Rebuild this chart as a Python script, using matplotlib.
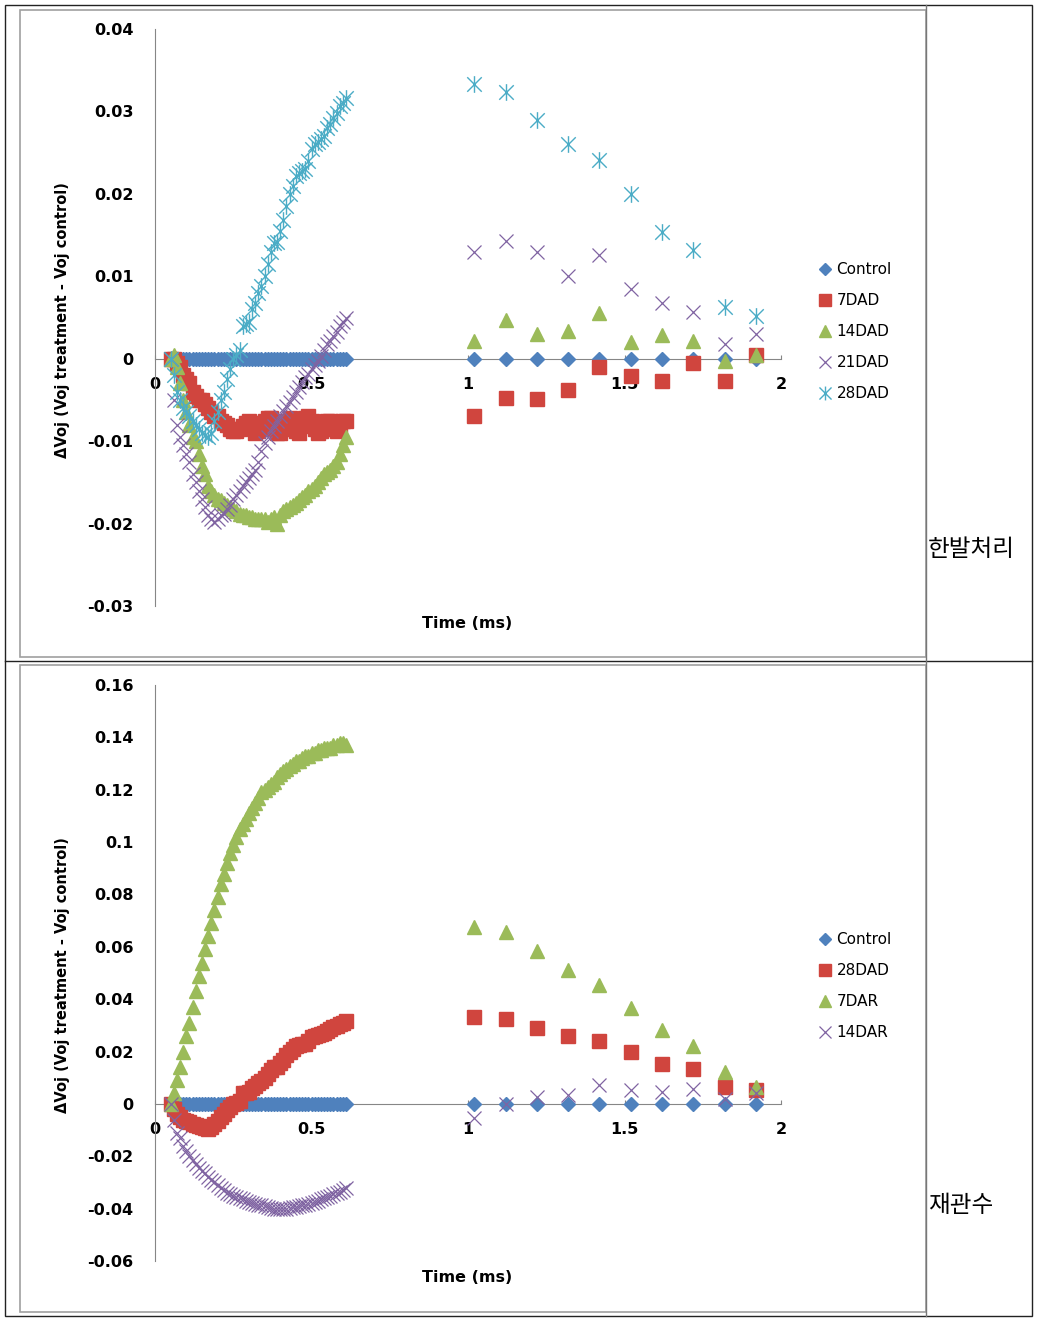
import matplotlib
matplotlib.use("Agg")
import matplotlib.pyplot as plt
from matplotlib.path import Path
from matplotlib.lines import Line2D
from matplotlib.patches import Rectangle

# ---------------- data ----------------
t_dense = [0.05, 0.06, 0.07, 0.08, 0.09, 0.10, 0.11, 0.12, 0.13, 0.14,
           0.15, 0.16, 0.17, 0.18, 0.19, 0.20, 0.21, 0.22, 0.23, 0.24,
           0.25, 0.26, 0.27, 0.28, 0.29, 0.30, 0.31, 0.32, 0.33, 0.34,
           0.35, 0.36, 0.37, 0.38, 0.39, 0.40, 0.41, 0.42, 0.43, 0.44,
           0.45, 0.46, 0.47, 0.48, 0.49, 0.50, 0.51, 0.52, 0.53, 0.54,
           0.55, 0.56, 0.57, 0.58, 0.59, 0.60, 0.61]
t_sparse = [1.02, 1.12, 1.22, 1.32, 1.42, 1.52, 1.62, 1.72, 1.82, 1.92]

control_dense = [0.0, 0.0, 0.0, 0.0, 0.0, 0.0, 0.0, 0.0, 0.0, 0.0,
                 0.0, 0.0, 0.0, 0.0, 0.0, 0.0, 0.0, 0.0, 0.0, 0.0,
                 0.0, 0.0, 0.0, 0.0, 0.0, 0.0, 0.0, 0.0, 0.0, 0.0,
                 0.0, 0.0, 0.0, 0.0, 0.0, 0.0, 0.0, 0.0, 0.0, 0.0,
                 0.0, 0.0, 0.0, 0.0, 0.0, 0.0, 0.0, 0.0, 0.0, 0.0,
                 0.0, 0.0, 0.0, 0.0, 0.0, 0.0, 0.0]
control_sparse = [0.0, 0.0, 0.0, 0.0, 0.0, 0.0, 0.0, 0.0, 0.0, 0.0]

# --- drought (한발처리) ---
dad7_dense = [0.0, 0.0, -0.0005, -0.001, -0.002, -0.0025, -0.003, -0.004, -0.0045, -0.005,
              -0.005, -0.0055, -0.006, -0.0065, -0.007, -0.007, -0.0075, -0.0078, -0.008, -0.0085,
              -0.0088, -0.0088, -0.0085, -0.0082, -0.0078, -0.0075, -0.0078, -0.009, -0.0088, -0.0085,
              -0.0075, -0.0072, -0.0072, -0.0085, -0.009, -0.009, -0.0085, -0.0075, -0.0072, -0.008,
              -0.0088, -0.009, -0.0082, -0.0072, -0.007, -0.0075, -0.0085, -0.009, -0.0088, -0.0078,
              -0.0075, -0.0075, -0.0085, -0.0088, -0.008, -0.0075, -0.0075]
dad7_sparse = [-0.0069, -0.0048, -0.0049, -0.0038, -0.0010, -0.0021, -0.0027, -0.0005, -0.0027, 0.0005]

dad14_dense = [0.0, 0.0005, -0.001, -0.003, -0.005, -0.0065, -0.008, -0.0095, -0.010, -0.0115,
               -0.013, -0.014, -0.0155, -0.016, -0.0165, -0.017, -0.0172, -0.0175, -0.0178, -0.018,
               -0.0182, -0.0185, -0.0188, -0.019, -0.019, -0.0192, -0.0192, -0.0195, -0.0195, -0.0195,
               -0.0195, -0.0198, -0.0195, -0.0192, -0.020, -0.019, -0.0185, -0.0182, -0.018, -0.0178,
               -0.0175, -0.0172, -0.0168, -0.0165, -0.016, -0.0158, -0.0155, -0.015, -0.0145, -0.014,
               -0.0138, -0.0135, -0.013, -0.0125, -0.0115, -0.0105, -0.0095]
dad14_sparse = [0.0021, 0.0047, 0.0030, 0.0034, 0.0055, 0.0020, 0.0029, 0.0022, -0.0003, 0.0004]

dad21_dense = [0.0, -0.005, -0.008, -0.0095, -0.0105, -0.0115, -0.0125, -0.014, -0.015, -0.016,
               -0.017, -0.018, -0.019, -0.0195, -0.0198, -0.0195, -0.019, -0.0188, -0.0182, -0.0178,
               -0.017, -0.0165, -0.016, -0.0155, -0.015, -0.0145, -0.014, -0.0135, -0.0125, -0.0112,
               -0.0102, -0.0095, -0.0088, -0.0082, -0.0075, -0.007, -0.0063, -0.0057, -0.0052, -0.0047,
               -0.004, -0.0034, -0.0028, -0.0022, -0.0018, -0.0013, -0.0008, -0.0003, 0.0003, 0.001,
               0.0018, 0.0022, 0.0027, 0.0033, 0.004, 0.0045, 0.005]
dad21_sparse = [0.0129, 0.0143, 0.0130, 0.0100, 0.0126, 0.0084, 0.0067, 0.0057, 0.0018, 0.0030]

dad28_dense = [0.0, -0.002, -0.004, -0.005, -0.006, -0.0065, -0.007, -0.0075, -0.008, -0.0085,
               -0.009, -0.0092, -0.0095, -0.009, -0.0075, -0.0065, -0.005, -0.004, -0.0025, -0.0012,
               0.0, 0.0005, 0.001, 0.004, 0.0042, 0.0045, 0.006, 0.0068, 0.008, 0.0088,
               0.010, 0.0115, 0.013, 0.014, 0.0142, 0.0155, 0.0168, 0.0185, 0.020, 0.021,
               0.0222, 0.0225, 0.0228, 0.023, 0.024, 0.0255, 0.026, 0.0263, 0.0266, 0.027,
               0.028, 0.0285, 0.0292, 0.0298, 0.0306, 0.031, 0.0316]
dad28_sparse = [0.0333, 0.0323, 0.0289, 0.0261, 0.0241, 0.0200, 0.0154, 0.0132, 0.0063, 0.0052]

# --- re-watering (재관수) ---
dar7_dense = [0.0, 0.004, 0.009, 0.014, 0.020, 0.026, 0.031, 0.037, 0.043, 0.049,
              0.054, 0.059, 0.064, 0.069, 0.074, 0.079, 0.084, 0.088, 0.092, 0.096,
              0.099, 0.102, 0.105, 0.107, 0.109, 0.111, 0.113, 0.115, 0.117, 0.119,
              0.120, 0.121, 0.122, 0.123, 0.125, 0.126, 0.127, 0.128, 0.129, 0.130,
              0.131, 0.131, 0.132, 0.133, 0.133, 0.134, 0.134, 0.135, 0.135, 0.136,
              0.136, 0.136, 0.137, 0.137, 0.138, 0.138, 0.137]
dar7_sparse = [0.0677, 0.0658, 0.0584, 0.0513, 0.0456, 0.0367, 0.0281, 0.0220, 0.0120, 0.0064]

dar14_dense = [0.0, -0.006, -0.011, -0.013, -0.016, -0.018, -0.020, -0.0215, -0.023, -0.0245,
               -0.0255, -0.0265, -0.0278, -0.029, -0.030, -0.031, -0.032, -0.033, -0.034, -0.0345,
               -0.035, -0.0355, -0.036, -0.0365, -0.037, -0.0375, -0.038, -0.0382, -0.0385, -0.0388,
               -0.039, -0.0395, -0.0398, -0.040, -0.040, -0.040, -0.0402, -0.040, -0.0398, -0.0395,
               -0.0393, -0.039, -0.0388, -0.0385, -0.0382, -0.038, -0.0375, -0.037, -0.0365, -0.036,
               -0.0355, -0.035, -0.0345, -0.034, -0.0335, -0.033, -0.032]
dar14_sparse = [-0.0055, 0.0, 0.0028, 0.0034, 0.0073, 0.0054, 0.0047, 0.0056, 0.0018, 0.0041]

labels_top = ["Control", "7DAD", "14DAD", "21DAD", "28DAD"]
labels_bot = ["Control", "28DAD", "7DAR", "14DAR"]

xticks = [0, 0.5, 1, 1.5, 2]
xtick_labels = ["0", "0.5", "1", "1.5", "2"]
yticks_top = [-0.03, -0.02, -0.01, 0, 0.01, 0.02, 0.03, 0.04]
ytick_labels_top = ["-0.03", "-0.02", "-0.01", "0", "0.01", "0.02", "0.03", "0.04"]
yticks_bot = [-0.06, -0.04, -0.02, 0, 0.02, 0.04, 0.06, 0.08, 0.1, 0.12, 0.14, 0.16]
ytick_labels_bot = ["-0.06", "-0.04", "-0.02", "0", "0.02", "0.04", "0.06", "0.08",
                    "0.1", "0.12", "0.14", "0.16"]

side_top = "한발처리"
side_bot = "재관수"
ylabel_text = "ΔVoj (Voj treatment - Voj control)"
xlabel_text = "Time (ms)"

# ---------------- styles ----------------
BLUE = "#4F81BD"
RED = "#D0453E"
GREEN = "#9BBB59"
PURPLE = "#8064A2"
AQUA = "#4BACC6"
AXGREY = "#868686"

star = Path([(-1, -1), (1, 1), (-1, 1), (1, -1), (0, -1.15), (0, 1.15)],
            [Path.MOVETO, Path.LINETO, Path.MOVETO, Path.LINETO, Path.MOVETO, Path.LINETO])

sty = {
    "diamond": dict(marker="D", ms=7.5, color=BLUE, mec=BLUE),
    "square": dict(marker="s", ms=10, color=RED, mec=RED),
    "tri": dict(marker="^", ms=10, color=GREEN, mec=GREEN),
    "x": dict(marker="x", ms=10.5, color=PURPLE, mew=0.9),
    "star": dict(marker=star, ms=12, color=AQUA, mew=1.0),
}
leg_sty = {
    "diamond": dict(marker="D", ms=6, color=BLUE, mec=BLUE, linestyle="none"),
    "square": dict(marker="s", ms=8.5, color=RED, mec=RED, linestyle="none"),
    "tri": dict(marker="^", ms=8.5, color=GREEN, mec=GREEN, linestyle="none"),
    "x": dict(marker="x", ms=9, color=PURPLE, mew=0.9, linestyle="none"),
    "star": dict(marker=star, ms=10, color=AQUA, mew=1.0, linestyle="none"),
}

W, H = 1043, 1323
fig = plt.figure(figsize=(W / 100, H / 100), dpi=100)
fig.patch.set_facecolor("white")


def fx(px):
    return px / W


def fy(py):
    return 1 - py / H


def make_panel(ytop, ybot, ylim, yticks, ylabels, series, labels, leg_top, ylab_y, xlab_y):
    ax = fig.add_axes([fx(155), fy(ybot), fx(781) - fx(155), fy(ytop) - fy(ybot)])
    ax.set_facecolor("none")
    handles = []
    for (xs, ys, key) in series:
        ax.plot(xs[0], ys[0], linestyle="none", **sty[key])
        ax.plot(xs[1], ys[1], linestyle="none", **sty[key])
        handles.append(Line2D([], [], **leg_sty[key]))
    ax.set_xlim(0, 2)
    ax.set_ylim(*ylim)
    for s in ["top", "right"]:
        ax.spines[s].set_visible(False)
    ax.spines["bottom"].set_position(("data", 0))
    ax.spines["bottom"].set_color(AXGREY)
    ax.spines["left"].set_color(AXGREY)
    ax.spines["bottom"].set_zorder(0.5)
    ax.set_xticks(xticks)
    ax.set_xticklabels(xtick_labels)
    ax.set_yticks(yticks)
    ax.set_yticklabels(ylabels)
    ax.tick_params(axis="x", direction="in", length=3, color=AXGREY, pad=13,
                   labelsize=11.5)
    ax.tick_params(axis="y", length=0, pad=15.5, labelsize=11.5)
    for lab in ax.get_xticklabels() + ax.get_yticklabels():
        lab.set_fontweight("bold")
    fig.legend(handles, labels, loc="upper left",
               bbox_to_anchor=(fx(819), fy(leg_top)),
               frameon=False, fontsize=11, handlelength=0.8,
               handletextpad=0.35, labelspacing=1.05, borderpad=0,
               borderaxespad=0)
    fig.text(fx(63), fy(ylab_y), ylabel_text, rotation=90, ha="center",
             va="center", fontsize=10.5, fontweight="bold")
    fig.text(fx(467), fy(xlab_y), xlabel_text, ha="center", va="center",
             fontsize=11.5, fontweight="bold")
    return ax


top_series = [
    ((t_dense, t_sparse), (control_dense, control_sparse), "diamond"),
    ((t_dense, t_sparse), (dad7_dense, dad7_sparse), "square"),
    ((t_dense, t_sparse), (dad14_dense, dad14_sparse), "tri"),
    ((t_dense, t_sparse), (dad21_dense, dad21_sparse), "x"),
    ((t_dense, t_sparse), (dad28_dense, dad28_sparse), "star"),
]
bot_series = [
    ((t_dense, t_sparse), (control_dense, control_sparse), "diamond"),
    ((t_dense, t_sparse), (dad28_dense, dad28_sparse), "square"),
    ((t_dense, t_sparse), (dar7_dense, dar7_sparse), "tri"),
    ((t_dense, t_sparse), (dar14_dense, dar14_sparse), "x"),
]

make_panel(29, 606, (-0.03, 0.04), yticks_top, ytick_labels_top, top_series,
           labels_top, 262, 320, 623)
make_panel(685, 1261, (-0.06, 0.16), yticks_bot, ytick_labels_bot, bot_series,
           labels_bot, 932, 975, 1278)

# table and chart frames
def rect(x0, y0, x1, y1, color, lw):
    fig.add_artist(Rectangle((fx(x0), fy(y1)), fx(x1) - fx(x0), fy(y0) - fy(y1),
                             transform=fig.transFigure, fill=False,
                             edgecolor=color, linewidth=lw))


def line(x0, y0, x1, y1, color, lw):
    fig.add_artist(Line2D([fx(x0), fx(x1)], [fy(y0), fy(y1)],
                          transform=fig.transFigure, color=color, linewidth=lw))


rect(20, 10, 926, 657, "#A0A0A0", 1.2)
rect(20, 665, 926, 1312, "#A0A0A0", 1.2)
rect(5, 5, 1032, 1316, "#222222", 1.0)
line(5, 661, 1032, 661, "#222222", 1.0)
line(926, 5, 926, 1316, "#777777", 1.0)

fig.text(fx(928), fy(550), side_top, ha="left", va="center", fontsize=17,
         family=["Noto Sans CJK KR", "DejaVu Sans"])
fig.text(fx(928), fy(1205), side_bot, ha="left", va="center", fontsize=17,
         family=["Noto Sans CJK KR", "DejaVu Sans"])

fig.savefig("out.png", dpi=100, facecolor="white")
